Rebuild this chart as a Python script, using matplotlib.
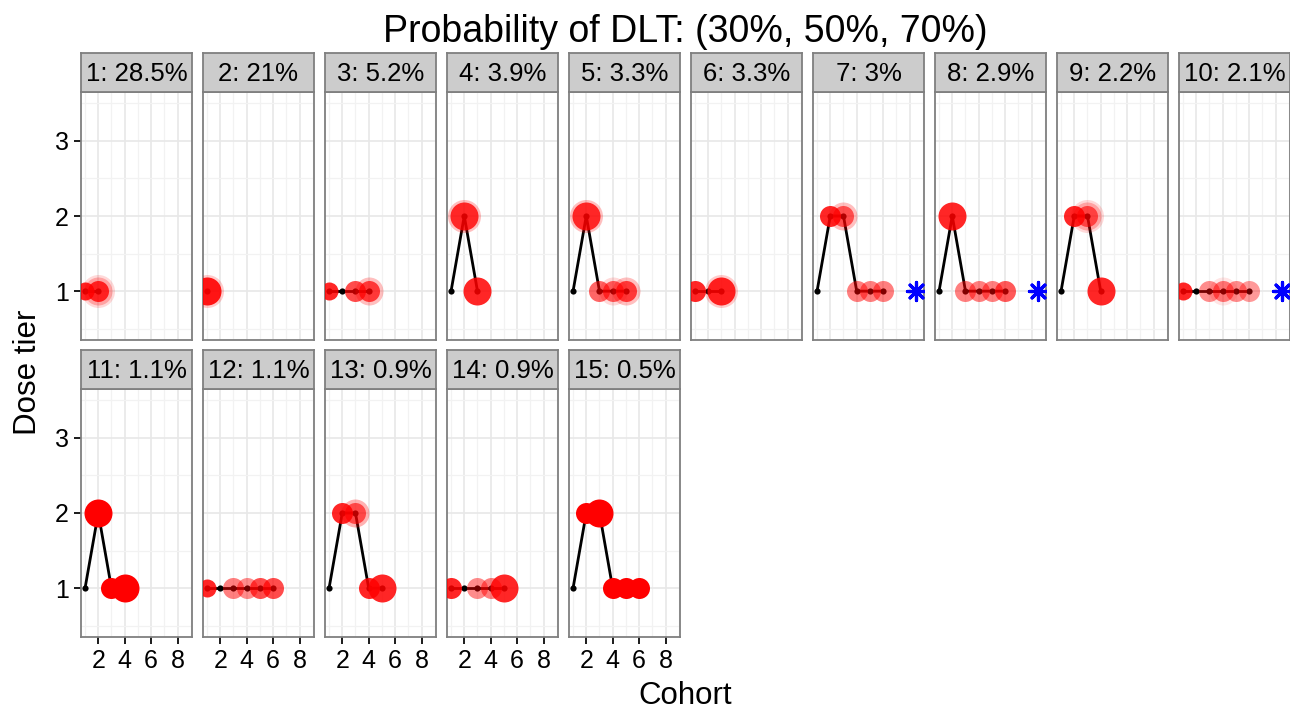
import matplotlib.pyplot as plt
import numpy as np

plt.rcParams['font.family'] = ['Liberation Sans', 'DejaVu Sans']

# facet labels: scenario number and how often it occurred
panel_labels = ["1: 28.5%", "2: 21%", "3: 5.2%", "4: 3.9%", "5: 3.3%",
                "6: 3.3%", "7: 3%", "8: 2.9%", "9: 2.2%", "10: 2.1%",
                "11: 1.1%", "12: 1.1%", "13: 0.9%", "14: 0.9%", "15: 0.5%"]

# dose tier given to each cohort (cohort 1, 2, ...)
dose_paths = [
    [1, 1],
    [1],
    [1, 1, 1, 1],
    [1, 2, 1],
    [1, 2, 1, 1, 1],
    [1, 1, 1],
    [1, 2, 2, 1, 1, 1],
    [1, 2, 1, 1, 1, 1],
    [1, 2, 2, 1],
    [1, 1, 1, 1, 1, 1],
    [1, 2, 1, 1],
    [1, 1, 1, 1, 1, 1],
    [1, 2, 2, 1, 1],
    [1, 1, 1, 1, 1],
    [1, 2, 2, 1, 1, 1],
]

# red markers: (cohort, size level, alpha)
red_marks = [
    [(1, 1, .85), (2, 2, .8), (2, 3, .25), (2, 4, .15)],
    [(1, 3, .9), (1, 4, .2)],
    [(1, 1, .85), (3, 2, .7), (4, 2, .7), (4, 3, .25)],
    [(2, 3, .8), (2, 4, .25), (3, 3, .85)],
    [(2, 3, .8), (2, 4, .25), (3, 2, .6), (4, 2, .6), (4, 3, .15), (5, 2, .7), (5, 3, .25)],
    [(1, 2, .85), (3, 3, .85), (3, 4, .2)],
    [(2, 2, .85), (3, 2, .6), (3, 3, .25), (4, 2, .5), (5, 2, .5), (6, 2, .5)],
    [(2, 3, .85), (3, 2, .5), (4, 2, .5), (5, 2, .5), (6, 2, .65)],
    [(2, 2, .85), (3, 2, .6), (3, 3, .25), (3, 4, .15), (4, 3, .85)],
    [(1, 1, .85), (3, 2, .45), (4, 2, .5), (4, 3, .1), (5, 2, .45), (6, 2, .4)],
    [(2, 3, 1), (3, 2, 1), (4, 3, 1)],
    [(1, 1, .85), (3, 2, .5), (4, 2, .45), (5, 2, .7), (6, 2, .7)],
    [(2, 2, .85), (3, 2, .6), (3, 3, .3), (4, 2, .85), (5, 3, .85)],
    [(1, 2, .85), (3, 2, .45), (4, 2, .5), (5, 3, .85)],
    [(2, 2, 1), (3, 3, 1), (4, 2, 1), (5, 2, 1), (6, 2, 1)],
]

# scenarios that stopped early (blue asterisk)
stopped_panels = [7, 8, 10]
star_cohort = 8.5
star_dose = 1

size_radius_px = {1: 9, 2: 10.5, 3: 14, 4: 16.5}

W, H = 1290, 711
fig = plt.figure(figsize=(W / 100, H / 100), dpi=100)

panel_w, panel_h, strip_h = 111.5, 248, 39
grid_col = '#E8E8E8'
border_col = '#7F7F7F'

for i, lab in enumerate(panel_labels):
    row, col = divmod(i, 10)
    left = 80.7 + col * 122
    top = 92 + row * 297
    ax = fig.add_axes([left / W, 1 - (top + panel_h) / H, panel_w / W, panel_h / H])
    ax.set_xlim(0.67, 9.11)
    ax.set_ylim(0.35, 3.65)
    ax.set_xticks([2, 4, 6, 8])
    ax.set_xticks([1, 3, 5, 7, 9], minor=True)
    ax.set_yticks([1, 2, 3])
    ax.set_yticks([0.5, 1.5, 2.5, 3.5], minor=True)
    ax.grid(True, which='major', color=grid_col, lw=1.2)
    ax.grid(True, which='minor', color='#F2F2F2', lw=0.9)
    ax.set_axisbelow(True)
    for s in ax.spines.values():
        s.set_color(border_col)
        s.set_linewidth(1.3)
    ax.tick_params(which='minor', length=0)
    ax.tick_params(which='major', length=5, width=1.4, color='#1A1A1A',
                   labelsize=18, labelcolor='black', pad=3.5)
    if col != 0:
        ax.tick_params(axis='y', left=False, labelleft=False)
    if row == 0:
        ax.tick_params(axis='x', bottom=False, labelbottom=False)

    doses = dose_paths[i]
    cohorts = np.arange(1, len(doses) + 1)
    ax.plot(cohorts, doses, color='black', lw=2.0, zorder=2)
    ax.scatter(cohorts, doses, s=20, color='black', zorder=3, lw=0)
    for c, lvl, a in red_marks[i]:
        r = size_radius_px[lvl]
        ax.scatter([c], [doses[c - 1]], s=(2 * r * 0.72) ** 2, color='#FF0000',
                   alpha=a, lw=0, zorder=4)
    if (i + 1) in stopped_panels:
        ax.scatter([star_cohort], [star_dose], marker=(8, 2, 0), s=170,
                   color='#0000FF', lw=2.3, zorder=5)

    sax = fig.add_axes([left / W, 1 - top / H, panel_w / W, strip_h / H])
    sax.set_facecolor('#CCCCCC')
    sax.set_xticks([])
    sax.set_yticks([])
    for s in sax.spines.values():
        s.set_color(border_col)
        s.set_linewidth(1.3)
    sax.text(0.5, 0.45, lab, ha='center', va='center', fontsize=18.5,
             color='black', transform=sax.transAxes)

fig.text(685 / W, 1 - 32 / H, "Probability of DLT: (30%, 50%, 70%)",
         ha='center', va='center', fontsize=27)
fig.text(685 / W, 1 - 696 / H, "Cohort", ha='center', va='center', fontsize=22.5)
fig.text(28 / W, 1 - 372 / H, "Dose tier", ha='center', va='center',
         fontsize=22.5, rotation=90)

fig.savefig('out.png', dpi=100)
